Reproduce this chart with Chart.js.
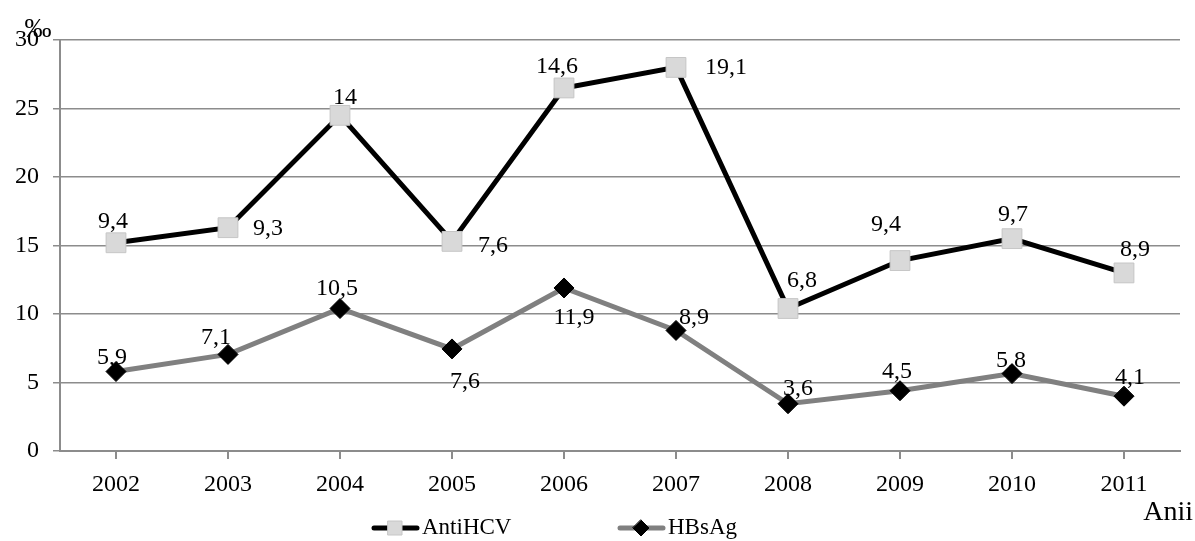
<!DOCTYPE html>
<html>
<head>
<meta charset="utf-8">
<script src="https://cdn.jsdelivr.net/npm/chart.js"></script>
<style>
  html, body { margin: 0; padding: 0; background: #fff; }
  #wrap { width: 1195px; height: 541px; }
</style>
</head>
<body>
<div id="wrap"><canvas id="chart" width="1195" height="541"></canvas></div>
<script>
// date
const years = ['2002', '2003', '2004', '2005', '2006', '2007', '2008', '2009', '2010', '2011'];
const antiHCV = [15.2, 16.3, 24.5, 15.3, 26.5, 28.0, 10.4, 13.9, 15.5, 13.0];
const antiHCVText = ['9,4', '9,3', '14', '7,6', '14,6', '19,1', '6,8', '9,4', '9,7', '8,9'];
const hbsAg = [5.8, 7.05, 10.4, 7.45, 11.9, 8.8, 3.45, 4.4, 5.65, 4.0];
const hbsAgText = ['5,9', '7,1', '10,5', '7,6', '11,9', '8,9', '3,6', '4,5', '5,8', '4,1'];
const yMin = 0, yMax = 30, yStep = 5;

// pozitia etichetelor fata de punct (px)
const antiHCVOffset = [[-3, -21], [40, 1], [5, -18], [41, 4], [-7, -21], [50, 0], [14, -28], [-14, -36], [1, -24], [11, -23]];
const hbsAgOffset = [[-4, -14], [-12, -17], [-3, -20], [13, 33], [10, 30], [18, -13], [10, -15], [-3, -19], [-1, -13], [6, -18]];

const FONT = "'Liberation Serif', 'Times New Roman', serif";

const extras = {
    id: 'extras',
    afterDatasetsDraw(chart) {
        const ctx = chart.ctx;
        ctx.save();
        ctx.fillStyle = '#000';
        ctx.font = '24px ' + FONT;
        ctx.textAlign = 'center';
        ctx.textBaseline = 'middle';
        const sets = [[antiHCVText, antiHCVOffset], [hbsAgText, hbsAgOffset]];
        sets.forEach(([texts, offs], di) => {
            chart.getDatasetMeta(di).data.forEach((pt, i) => {
                ctx.fillText(texts[i], pt.x + offs[i][0], pt.y + offs[i][1]);
            });
        });

        // unitate
        ctx.font = '27px ' + FONT;
        ctx.fillText('‰', 38, 30);
        ctx.font = '28px ' + FONT;
        ctx.textAlign = 'right';
        ctx.fillText('Anii', 1193, 513);

        // legenda
        const items = [
            { x: 372, label: 'AntiHCV', ds: chart.data.datasets[0] },
            { x: 618, label: 'HBsAg', ds: chart.data.datasets[1] }
        ];
        const ly = 528;
        items.forEach(it => {
            ctx.strokeStyle = it.ds.borderColor;
            ctx.lineWidth = 5;
            ctx.lineCap = 'round';
            ctx.beginPath();
            ctx.moveTo(it.x + 2, ly);
            ctx.lineTo(it.x + 45, ly);
            ctx.stroke();
            const cx = it.x + 23;
            ctx.fillStyle = it.ds.pointBackgroundColor;
            ctx.strokeStyle = it.ds.pointBorderColor;
            ctx.lineWidth = 1;
            ctx.beginPath();
            if (it.ds.pointStyle === 'rect') {
                ctx.rect(cx - 7, ly - 7, 14, 14);
            } else {
                ctx.moveTo(cx, ly - 8); ctx.lineTo(cx + 8, ly);
                ctx.lineTo(cx, ly + 8); ctx.lineTo(cx - 8, ly);
                ctx.closePath();
            }
            ctx.fill();
            ctx.stroke();
            ctx.fillStyle = '#000';
            ctx.font = '23px ' + FONT;
            ctx.textAlign = 'left';
            ctx.fillText(it.label, it.x + 50, ly);
        });
        ctx.restore();
    }
};

new Chart(document.getElementById('chart'), {
    type: 'line',
    data: {
        labels: years,
        datasets: [
            {
                label: 'AntiHCV',
                data: antiHCV,
                borderColor: '#000000',
                borderWidth: 5,
                pointStyle: 'rect',
                pointRadius: 14,
                pointBackgroundColor: '#d9d9d9',
                pointBorderColor: '#c6c6c6',
                pointBorderWidth: 1,
                tension: 0
            },
            {
                label: 'HBsAg',
                data: hbsAg,
                borderColor: '#808080',
                borderWidth: 5,
                pointStyle: 'rectRot',
                pointRadius: 10,
                pointBackgroundColor: '#000000',
                pointBorderColor: '#000000',
                pointBorderWidth: 1,
                tension: 0
            }
        ]
    },
    options: {
        responsive: false,
        animation: false,
        layout: { padding: { top: 40, right: 8, bottom: 0, left: 0 } },
        plugins: {
            legend: { display: false },
            tooltip: { enabled: false }
        },
        scales: {
            x: {
                offset: true,
                grid: { drawOnChartArea: false, drawTicks: true, tickLength: 8, color: '#8c8c8c', lineWidth: 2 },
                border: { color: '#8c8c8c', width: 2 },
                ticks: { color: '#000', font: { family: FONT, size: 24 }, padding: 11, maxRotation: 0 },
                afterFit(scale) { scale.height = 90; }
            },
            y: {
                min: yMin,
                max: yMax,
                grid: { color: '#8c8c8c', lineWidth: 1.5, tickLength: 7 },
                border: { color: '#8c8c8c', width: 2 },
                ticks: { stepSize: yStep, color: '#000', font: { family: FONT, size: 24 }, padding: 14 },
                afterFit(scale) { scale.width = 60; }
            }
        }
    },
    plugins: [extras]
});
</script>
</body>
</html>
